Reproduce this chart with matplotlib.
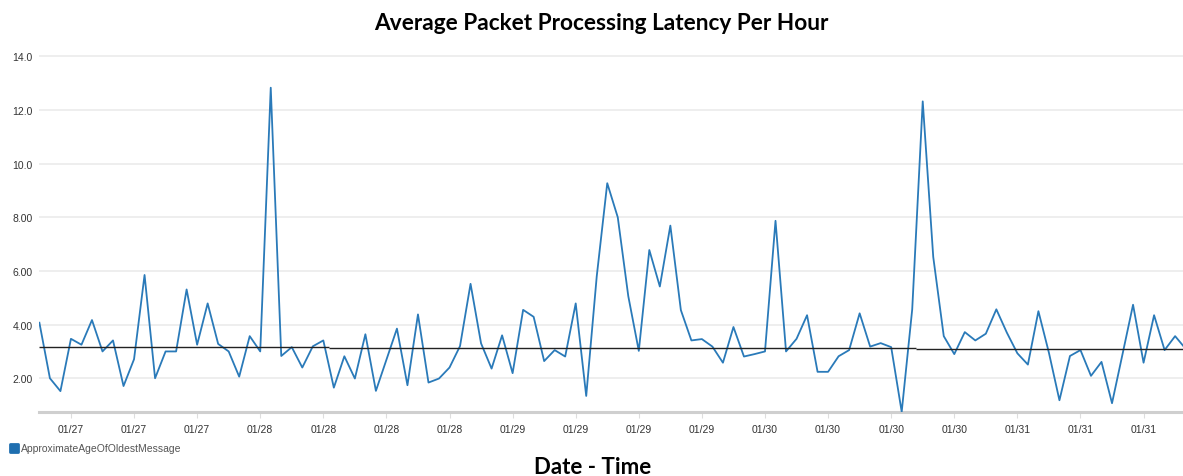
import matplotlib
matplotlib.use("Agg")
import matplotlib.pyplot as plt
import matplotlib.dates as mdates
from matplotlib.markers import MarkerStyle
import pandas as pd

# hourly latency readings
latency = [
    4.07, 2.00, 1.52, 3.47, 3.25, 4.17, 3.00, 3.41, 1.71, 2.71,
    5.85, 2.00, 3.00, 3.00, 5.31, 3.25, 4.79, 3.28, 3.00, 2.06,
    3.57, 3.00, 12.83, 2.83, 3.16, 2.40, 3.19, 3.41, 1.65, 2.82,
    1.99, 3.64, 1.53, 2.69, 3.85, 1.74, 4.38, 1.84, 1.99, 2.40,
    3.20, 5.52, 3.30, 2.36, 3.60, 2.19, 4.55, 4.29, 2.64, 3.05,
    2.81, 4.79, 1.34, 5.80, 9.27, 8.00, 5.06, 3.02, 6.78, 5.42,
    7.69, 4.54, 3.41, 3.46, 3.18, 2.58, 3.91, 2.81, 2.90, 3.00,
    7.87, 3.00, 3.47, 4.35, 2.24, 2.24, 2.82, 3.05, 4.42, 3.18,
    3.31, 3.16, 0.75, 4.57, 12.32, 6.52, 3.57, 2.90, 3.72, 3.41,
    3.66, 4.57, 3.70, 2.93, 2.51, 4.50, 2.95, 1.18, 2.83, 3.05,
    2.09, 2.61, 1.07, 2.90, 4.74, 2.58, 4.35, 3.05, 3.57, 3.10,
]
times = pd.date_range("2019-01-27 03:00", periods=len(latency), freq="h")

# reference average line, drawn in three pieces
avg_levels = [3.18, 3.14, 3.10]
avg_breaks = pd.to_datetime(["2019-01-27 03:00", "2019-01-28 06:30",
                             "2019-01-30 14:20", "2019-01-31 16:00"])

ytick_vals = [2, 4, 6, 8, 10, 12, 14]
ytick_labels = ["2.00", "4.00", "6.00", "8.00", "10.0", "12.0", "14.0"]

series_name = "ApproximateAgeOfOldestMessage"

fig = plt.figure(figsize=(11.83, 4.77), dpi=100)
ax = fig.add_axes([0.0333, 0.1346, 0.9667, 0.7593])

ax.plot(times, latency, color="#2a7ab9", lw=1.3, label=series_name, zorder=3)
for i, lvl in enumerate(avg_levels):
    ax.hlines(lvl, avg_breaks[i], avg_breaks[i + 1], color="#222222", lw=1.0, zorder=4)

ax.set_ylim(0.75, 14.25)
ax.set_xlim(times[0], pd.Timestamp("2019-01-31 15:45"))
ax.set_yticks(ytick_vals)
ax.set_yticklabels(ytick_labels)
ax.yaxis.grid(True, color="#ebebeb", lw=1.2)
ax.set_axisbelow(True)

ax.xaxis.set_major_locator(mdates.HourLocator(byhour=[0, 6, 12, 18]))
ax.xaxis.set_major_formatter(mdates.DateFormatter("%m/%d"))

for s in ["top", "right", "left"]:
    ax.spines[s].set_visible(False)
ax.spines["bottom"].set_color("#cfcfcf")
ax.spines["bottom"].set_linewidth(2.2)
ax.tick_params(axis="y", length=0, pad=5, labelsize=7.5, labelcolor="#333333")
ax.tick_params(axis="x", length=4, width=0.8, color="#dddddd", pad=5,
               labelsize=7.5, labelcolor="#333333")
for lab in ax.get_xticklabels() + ax.get_yticklabels():
    lab.set_family("Liberation Sans")

marker = MarkerStyle("s", joinstyle="round")
leg = fig.legend(handles=[plt.Line2D([], [], ls="none", marker=marker, markersize=5.5,
                                     markeredgewidth=2, color="#1f6fb0")],
                 labels=[series_name], loc="center left",
                 bbox_to_anchor=(0.004, 0.058), frameon=False,
                 prop={"family": "Liberation Sans", "size": 7.5},
                 handletextpad=0.15, borderaxespad=0, handlelength=1.0)
for t in leg.get_texts():
    t.set_color("#555555")

fig.text(0.508, 0.95, "Average Packet Processing Latency Per Hour",
         ha="center", va="center", fontsize=16.3, fontweight="bold", family="Lato")
fig.text(0.501, 0.019, "Date - Time", ha="center", va="center",
         fontsize=16, fontweight="bold", family="Lato")

fig.savefig("out.png", dpi=100)
